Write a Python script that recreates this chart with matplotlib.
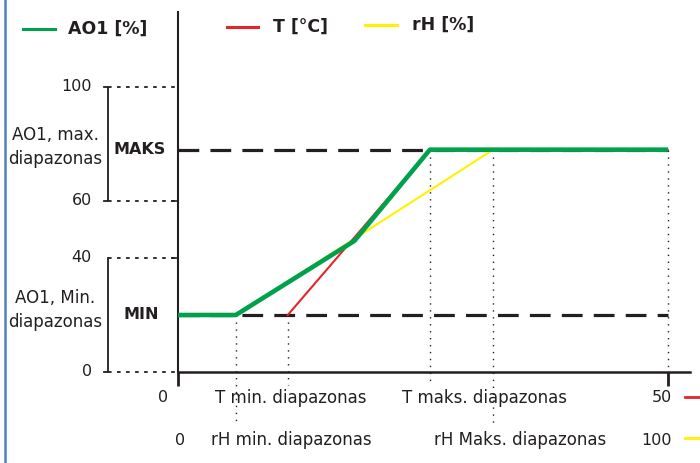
import matplotlib.pyplot as plt
from matplotlib.lines import Line2D

# scales of the two inputs and the output
t_scale = [0, 50]        # T [°C]
rh_scale = [0, 100]      # rH [%]
ao1_ticks = [0, 40, 60, 100]

# output limits
ao1_min = 20
ao1_max = 78

# input ranges
t_min, t_max = 11.2, 25.7
rh_min, rh_max = 11.8, 64.3

# resulting AO1 curve (x in °C scale)
ao1_x = [0, 5.9, 18.0, 25.7, 50]
ao1_y = [20, 20, 46, 78, 78]

GREEN = "#00a14b"
RED = "#e4252b"
YELLOW = "#fff200"
DARK = "#231f20"
FS = 12      # words
FN = 11.5    # numbers

fig = plt.figure(figsize=(7, 4.63), dpi=100)
ax = fig.add_axes([178 / 700, 1 - 372 / 463, 512 / 700, 360 / 463])
ax.set_xlim(0, 52.24)
ax.set_ylim(0, 126.3)

# second x scale for rH
ax2 = ax.twiny()
ax2.set_xlim(0, 104.48)
ax2.set_ylim(0, 126.3)
ax2.axis("off")
ax.set_zorder(ax2.get_zorder() + 1)
ax.patch.set_visible(False)

for s in ["top", "right"]:
    ax.spines[s].set_visible(False)
ax.spines["left"].set_linewidth(1.5)
ax.spines["bottom"].set_linewidth(1.8)
ax.spines["left"].set_color(DARK)
ax.spines["bottom"].set_color(DARK)
ax.set_xticks(t_scale)
ax.set_xticklabels([])
ax.tick_params(axis="x", length=10, width=2, color=DARK)
ax.set_yticks([40, 60])
ax.set_yticklabels([])
ax.tick_params(axis="y", length=5, width=1.2, color=DARK)

# dashed limit lines
ax.plot(t_scale, [ao1_max, ao1_max], color=DARK, lw=2.3, dashes=(6.5, 3.5), zorder=2)
ax.plot(t_scale, [ao1_min, ao1_min], color=DARK, lw=2.3, dashes=(6.5, 3.5), zorder=2)

# dotted guide lines
dot = dict(color=DARK, lw=1, ls=(0, (1, 4)), clip_on=False, zorder=1)
ax.plot([t_min, t_min], [ao1_min, -4.6], **dot)
ax.plot([t_max, t_max], [ao1_max, -4.6], **dot)
ax.plot([t_scale[1], t_scale[1]], [ao1_max, -3], **dot)
ax2.plot([rh_min, rh_min], [ao1_min, -18.6], **dot)
ax2.plot([rh_max, rh_max], [ao1_max, -18.6], **dot)
for v in ao1_ticks:
    ax.plot([-7.1, 0], [v, v], color=DARK, lw=1.3, ls=(0, (2, 3)), clip_on=False)

# brackets
ax.plot([-7.6, -7.1, -7.1, -7.6], [100, 100, 60, 60], color=DARK, lw=1.3, clip_on=False)
ax.plot([-7.1, -7.1, -7.6], [40, 0, 0], color=DARK, lw=1.3, clip_on=False)

# curves
ax2.plot([rh_min, rh_max], [ao1_min, ao1_max], color=YELLOW, lw=1.5, zorder=3)
ax.plot([t_min, t_max], [ao1_min, ao1_max], color=RED, lw=1.5, zorder=3)
ax.plot(ao1_x, ao1_y, color=GREEN, lw=3.3, zorder=4, solid_capstyle="butt")

# left labels
for v in ao1_ticks:
    ax.text(-8.8, v, str(v), ha="right", va="center", fontsize=FN, color=DARK, clip_on=False)
ax.text(-7.7, 78.9, "AO1, max.\ndiapazonas", ha="right", va="center", multialignment="center",
        fontsize=FS, color=DARK, linespacing=1.4)
ax.text(-7.7, 21.8, "AO1, Min.\ndiapazonas", ha="right", va="center", multialignment="center",
        fontsize=FS, color=DARK, linespacing=1.4)
ax.text(-3.9, ao1_max, "MAKS", ha="center", va="center", fontsize=11.5, fontweight="bold", color=DARK)
ax.text(-3.7, ao1_min, "MIN", ha="center", va="center", fontsize=11.5, fontweight="bold", color=DARK)

# bottom labels
ax.text(-1.5, -9.1, "0", ha="center", va="center", fontsize=FN, color=DARK)
ax.text(11.5, -9.1, "T min. diapazonas", ha="center", va="center", fontsize=FS, color=DARK)
ax.text(31.3, -9.1, "T maks. diapazonas", ha="center", va="center", fontsize=FS, color=DARK)
ax.text(50.4, -9.1, str(t_scale[1]), ha="right", va="center", fontsize=FN, color=DARK)
ax.text(0.2, -23.9, "0", ha="center", va="center", fontsize=FN, color=DARK)
ax.text(11.6, -23.9, "rH min. diapazonas", ha="center", va="center", fontsize=FS, color=DARK)
ax.text(34.9, -23.9, "rH Maks. diapazonas", ha="center", va="center", fontsize=FS, color=DARK)
ax.text(50.4, -23.9, str(rh_scale[1]), ha="right", va="center", fontsize=FN, color=DARK)
ax.plot([51.7, 53.5], [-8.8, -8.8], color=RED, lw=2, clip_on=False)
ax.plot([51.7, 53.5], [-23.2, -23.2], color=YELLOW, lw=2, clip_on=False)

# legend at the top
def legend_item(x0, x1, y, tx, label, color):
    fy = 1 - y / 463
    fig.add_artist(Line2D([x0 / 700, x1 / 700], [fy, fy], color=color, lw=2.2))
    fig.text(tx / 700, fy, label, ha="left", va="center", fontsize=12.5, fontweight="bold", color=DARK)

legend_item(23, 55, 29, 68, "AO1 [%]", GREEN)
legend_item(227, 258, 27, 273, "T [°C]", RED)
legend_item(365, 397, 25, 412, "rH [%]", YELLOW)

# blue frame edge on the left
fig.add_artist(Line2D([5 / 700, 5 / 700], [0, 1], color="#4f81bd", lw=1.8))

fig.savefig("out.png", dpi=100)
